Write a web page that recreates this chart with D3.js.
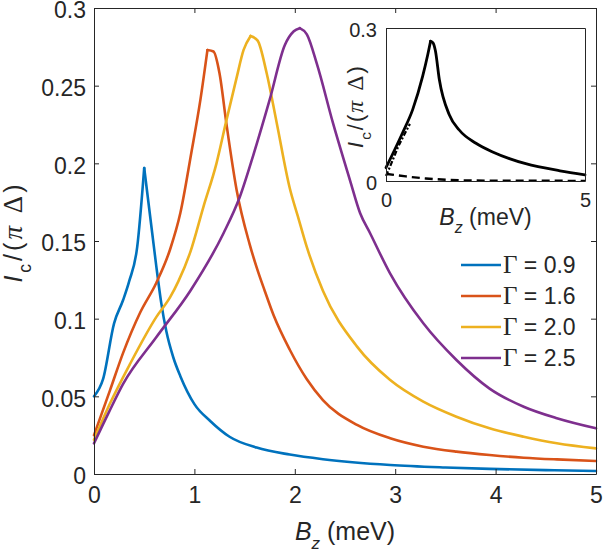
<!DOCTYPE html>
<html>
<head>
<meta charset="utf-8">
<script src="https://cdn.jsdelivr.net/npm/d3@7"></script>
<style>
  body { margin: 0; background: #fff; }
  svg { display: block; }
</style>
</head>
<body>
<div id="chart"></div>
<script>
// values
var legendLabels = ["0.9", "1.6", "2.0", "2.5"];
var colors = ["#0072BD", "#D95319", "#EDB120", "#7E2F8E"];

var bzG09 = [0, 0.09, 0.2, 0.29, 0.35, 0.43, 0.5, 0.58, 0.62, 0.67, 0.72, 0.79, 0.86, 1.0, 1.16, 1.35, 1.62, 1.95, 2.28, 2.95, 3.5, 3.94, 4.5, 5.0];
var icG09 = [0.050, 0.061, 0.097, 0.112, 0.124, 0.146, 0.197, 0.155, 0.134, 0.110, 0.092, 0.075, 0.063, 0.045, 0.034, 0.024, 0.0170, 0.0125, 0.0095, 0.0058, 0.0042, 0.0033, 0.0025, 0.0019];

var bzG16 = [0, 0.16, 0.29, 0.46, 0.62, 0.76, 0.86, 0.97, 1.06, 1.13, 1.19, 1.25, 1.32, 1.42, 1.55, 1.62, 1.70, 1.79, 1.95, 2.12, 2.28, 2.62, 2.95, 3.28, 3.61, 3.94, 4.28, 4.61, 5.0];
var icG16 = [0.025, 0.054, 0.078, 0.104, 0.123, 0.145, 0.168, 0.207, 0.241, 0.273, 0.272, 0.258, 0.225, 0.183, 0.148, 0.133, 0.118, 0.102, 0.080, 0.061, 0.0476, 0.0316, 0.023, 0.0176, 0.0144, 0.0122, 0.0105, 0.0094, 0.0084];

var bzG20 = [0, 0.16, 0.36, 0.62, 0.76, 0.84, 0.96, 1.09, 1.22, 1.32, 1.42, 1.49, 1.56, 1.63, 1.72, 1.82, 1.95, 2.03, 2.12, 2.28, 2.62, 2.95, 3.28, 3.61, 3.94, 4.28, 4.61, 5.0];
var icG20 = [0.022, 0.0455, 0.071, 0.101, 0.114, 0.124, 0.143, 0.172, 0.200, 0.228, 0.255, 0.273, 0.282, 0.279, 0.258, 0.226, 0.184, 0.166, 0.146, 0.118, 0.082, 0.0605, 0.0466, 0.0369, 0.0294, 0.024, 0.0198, 0.0165];

var bzG25 = [0, 0.15, 0.29, 0.62, 0.96, 1.29, 1.45, 1.59, 1.75, 1.90, 1.99, 2.05, 2.12, 2.22, 2.38, 2.55, 2.65, 2.75, 2.95, 3.28, 3.61, 3.94, 4.28, 4.61, 5.0];
var icG25 = [0.0197, 0.040, 0.058, 0.088, 0.118, 0.155, 0.178, 0.206, 0.241, 0.276, 0.285, 0.287, 0.283, 0.264, 0.226, 0.189, 0.168, 0.155, 0.129, 0.097, 0.0734, 0.055, 0.0433, 0.0359, 0.0294];

// inset: solid, dashed and dash-dot curves
var bzIn = [0, 0.42, 0.67, 0.92, 1.05, 1.12, 1.18, 1.24, 1.34, 1.59, 1.84, 2.26, 2.68, 3.1, 3.51, 4.37, 5.0];
var icIn = [0.026, 0.095, 0.140, 0.205, 0.248, 0.274, 0.271, 0.256, 0.199, 0.130, 0.100, 0.074, 0.057, 0.044, 0.034, 0.020, 0.012];
var bzInDash = [0, 0.5, 1.0, 1.5, 2.0, 3.0, 4.0, 5.0];
var icInDash = [0.014, 0.009, 0.005, 0.0025, 0.0012, 0.0006, 0.0004, 0.0003];
var bzInDot = [0, 0.1, 0.2, 0.3, 0.4, 0.5, 0.6];
var icInDot = [0.010, 0.028, 0.047, 0.066, 0.082, 0.097, 0.112];

var xTicks = [0, 1, 2, 3, 4, 5];
var yTicks = [0, 0.05, 0.1, 0.15, 0.2, 0.25, 0.3];
var yTickLabels = ["0", "0.05", "0.1", "0.15", "0.2", "0.25", "0.3"];

var series = [
    { bz: bzG09, ic: icG09 },
    { bz: bzG16, ic: icG16 },
    { bz: bzG20, ic: icG20 },
    { bz: bzG25, ic: icG25 }
];

function zip(xs, ys) {
    return xs.map(function (x, i) { return { x: x, y: ys[i] }; });
}

// rising part and falling part drawn separately so the peak stays sharp
function drawPeaked(parent, pts, lineGen, attrs) {
    var p = d3.maxIndex(pts, function (d) { return d.y; });
    [pts.slice(0, p + 1), pts.slice(p)].forEach(function (part) {
        var path = parent.append("path").datum(part).attr("fill", "none").attr("d", lineGen);
        Object.keys(attrs).forEach(function (k) { path.attr(k, attrs[k]); });
    });
}

var axisColor = "#262626";
var sans = "'Liberation Sans', Arial, Helvetica, sans-serif";
var serif = "'Liberation Serif', 'Times New Roman', serif";

var svg = d3.select("#chart").append("svg").attr("width", 604).attr("height", 554);

var margin = { top: 8, right: 8, bottom: 80, left: 94 };
var width = 604 - margin.left - margin.right;
var height = 554 - margin.top - margin.bottom;
var g = svg.append("g").attr("transform", "translate(" + margin.left + "," + margin.top + ")");

var x = d3.scaleLinear().domain([0, 5]).range([0, width]);
var y = d3.scaleLinear().domain([0, 0.3]).range([height, 0]);

var line = d3.line()
    .curve(d3.curveMonotoneX)
    .x(function (d) { return x(d.x); })
    .y(function (d) { return y(d.y); });

series.forEach(function (s, i) {
    drawPeaked(g, zip(s.bz, s.ic), line, {
        "stroke": colors[i], "stroke-width": 2.6, "stroke-linejoin": "round", "stroke-linecap": "round"
    });
});

function styleAxis(sel, size) {
    sel.attr("color", axisColor)
        .attr("font-family", sans)
        .attr("font-size", size);
    sel.selectAll("path, line").attr("stroke-width", 1);
}

var xAxis = d3.axisBottom(x).tickValues(xTicks).tickFormat(d3.format("d"))
    .tickSizeInner(-5).tickSizeOuter(0).tickPadding(13);
var yAxis = d3.axisLeft(y).tickValues(yTicks).tickFormat(function (d, i) { return yTickLabels[i]; })
    .tickSizeInner(-5).tickSizeOuter(0).tickPadding(8);

g.append("g").attr("transform", "translate(0," + height + ")").call(xAxis).call(styleAxis, 23);
g.append("g").call(yAxis).call(styleAxis, 23).selectAll("text").attr("dy", "0.42em");
g.append("g").call(d3.axisTop(x).tickValues(xTicks).tickFormat("").tickSizeInner(-5).tickSizeOuter(0)).call(styleAxis, 23);
g.append("g").attr("transform", "translate(" + width + ",0)")
    .call(d3.axisRight(y).tickValues(yTicks).tickFormat("").tickSizeInner(-5).tickSizeOuter(0)).call(styleAxis, 23);

// axis titles
var xl = svg.append("text")
    .attr("x", margin.left + width / 2).attr("y", 540)
    .attr("text-anchor", "middle")
    .attr("font-family", sans).attr("font-size", 25).attr("fill", axisColor);
xl.append("tspan").attr("font-style", "italic").text("B");
xl.append("tspan").attr("font-style", "italic").attr("font-size", 17).attr("dy", 9).text("z");
xl.append("tspan").attr("dy", -9).text(" (meV)");

function yTitle(parent, tx, ty, size, gap) {
    var t = parent.append("text")
        .attr("transform", "translate(" + tx + "," + ty + ") rotate(-90)")
        .attr("text-anchor", "middle")
        .attr("font-family", sans).attr("font-size", size).attr("fill", axisColor)
        .attr("letter-spacing", gap);
    t.append("tspan").attr("font-style", "italic").text("I");
    t.append("tspan").attr("font-size", size * 0.7).attr("dy", size * 0.36).text("c");
    t.append("tspan").attr("dy", -size * 0.36).text("/(");
    t.append("tspan").attr("font-family", serif).attr("font-style", "italic").attr("font-size", size * 1.08).text("\u03c0");
    t.append("tspan").text("  ");
    t.append("tspan").attr("font-family", serif).attr("font-size", size * 1.08).text("\u0394");
    t.append("tspan").text(")");
    return t;
}
yTitle(svg, 22, 232, 25, 3);

// legend
var legend = g.append("g").attr("transform", "translate(" + (461 - margin.left) + "," + (265 - margin.top) + ")");
legendLabels.forEach(function (lab, i) {
    var row = legend.append("g").attr("transform", "translate(0," + (i * 31) + ")");
    row.append("line").attr("x1", 0).attr("x2", 40).attr("y1", 0).attr("y2", 0)
        .attr("stroke", colors[i]).attr("stroke-width", 2.6);
    var t = row.append("text").attr("x", 42).attr("y", 0).attr("dy", "0.36em")
        .attr("font-family", sans).attr("font-size", 23).attr("fill", axisColor);
    t.append("tspan").attr("font-family", serif).attr("font-size", 25).text("\u0393");
    t.append("tspan").text(" = " + lab);
});

// inset
var inset = { left: 386, top: 28, width: 199, height: 153 };
var ig = svg.append("g").attr("transform", "translate(" + inset.left + "," + inset.top + ")");
ig.append("rect").attr("width", inset.width).attr("height", inset.height).attr("fill", "#fff");

var xi = d3.scaleLinear().domain([0, 5]).range([0, inset.width]);
var yi = d3.scaleLinear().domain([0, 0.3]).range([inset.height, 0]);
var lineIn = d3.line()
    .curve(d3.curveMonotoneX)
    .x(function (d) { return xi(d.x); })
    .y(function (d) { return yi(d.y); });

ig.append("path").datum(zip(bzInDash, icInDash))
    .attr("fill", "none").attr("stroke", "#000").attr("stroke-width", 2.4)
    .attr("stroke-dasharray", "8,5").attr("d", lineIn);
ig.append("path").datum(zip(bzInDot, icInDot))
    .attr("fill", "none").attr("stroke", "#000").attr("stroke-width", 2.2)
    .attr("stroke-dasharray", "5,2,2,2").attr("d", lineIn);
drawPeaked(ig, zip(bzIn, icIn), lineIn, {
    "stroke": "#000", "stroke-width": 2.8, "stroke-linejoin": "round", "stroke-linecap": "round"
});

ig.append("g").attr("transform", "translate(0," + inset.height + ")")
    .call(d3.axisBottom(xi).tickValues([0, 5]).tickFormat(d3.format("d")).tickSizeInner(-4).tickSizeOuter(0).tickPadding(12))
    .call(styleAxis, 20);
ig.append("g")
    .call(d3.axisLeft(yi).tickValues([0, 0.3]).tickFormat(function (d) { return d === 0 ? "0" : "0.3"; }).tickSizeInner(-4).tickSizeOuter(0).tickPadding(9))
    .call(styleAxis, 20).selectAll("text").attr("dy", "0.4em");
ig.append("g").call(d3.axisTop(xi).tickValues([]).tickSizeOuter(0)).call(styleAxis, 20);
ig.append("g").attr("transform", "translate(" + inset.width + ",0)")
    .call(d3.axisRight(yi).tickValues([]).tickSizeOuter(0)).call(styleAxis, 20);

var xil = ig.append("text")
    .attr("x", inset.width / 2).attr("y", 197)
    .attr("text-anchor", "middle")
    .attr("font-family", sans).attr("font-size", 23).attr("fill", axisColor);
xil.append("tspan").attr("font-style", "italic").text("B");
xil.append("tspan").attr("font-style", "italic").attr("font-size", 16).attr("dy", 8).text("z");
xil.append("tspan").attr("dy", -8).text(" (meV)");

yTitle(svg, 363, 106, 22, 2);
</script>
</body>
</html>
